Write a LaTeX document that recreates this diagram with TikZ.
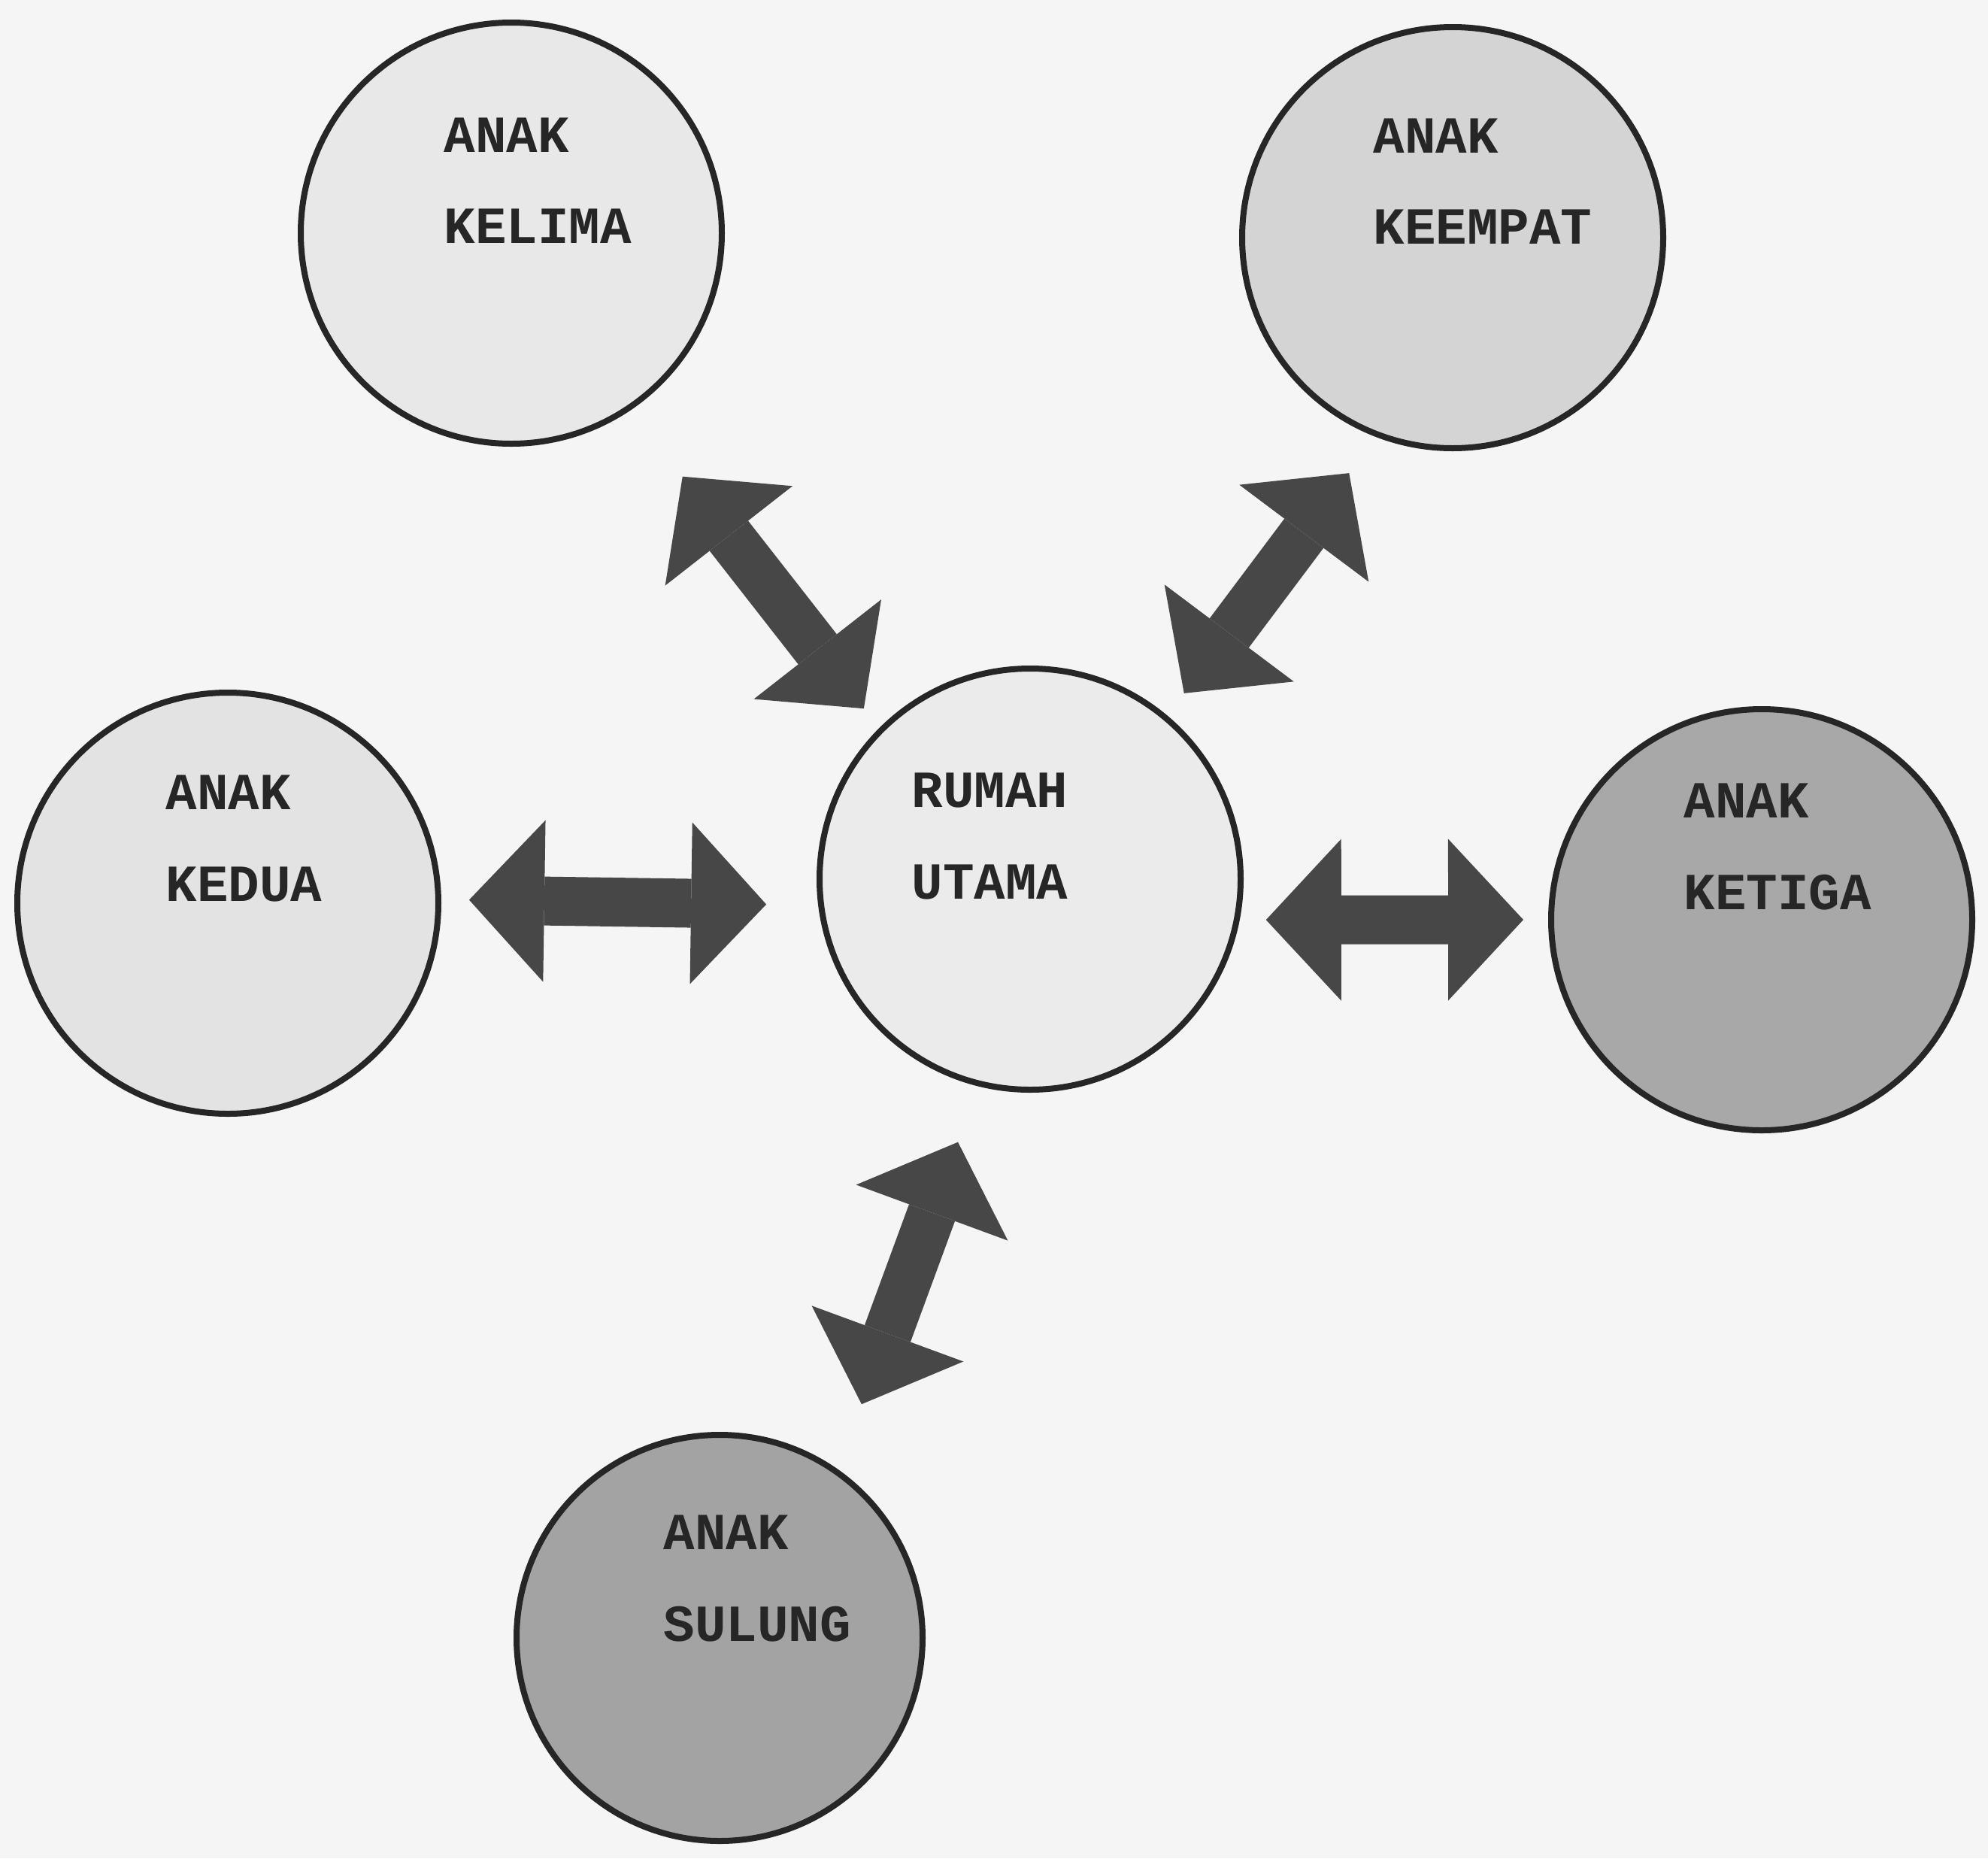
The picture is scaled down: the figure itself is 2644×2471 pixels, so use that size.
\documentclass[tikz,border=0pt]{standalone}
\usepackage{fontspec}
\newfontfamily\ketik{Liberation Mono}
\usetikzlibrary{arrows.meta}

\tikzset{
  rumah/.style={circle, draw=black!85, line width=0.8mm, minimum size=56mm, inner sep=0pt},
  tulisan/.style={anchor=west, align=left, inner sep=0pt, text=black!85,
    font=\ketik\bfseries\fontsize{19.7}{34.6}\selectfont},
  panah/.style={line width=6.5mm, draw=black!72,
    >={Triangle[width=21.5mm,length=10mm,line width=0pt]}, <->}
}

\begin{document}
\begin{tikzpicture}[x=0.1mm, y=-0.1mm]
    \useasboundingbox (0,0) rectangle (2644,2471);
    % Latar kertas
    \fill[black!4] (0,0) rectangle (2644,2471);

    % Lingkaran
    \node[rumah, fill=black!9]  (kelima)  at (680,310)   {};
    \node[rumah, fill=black!17] (keempat) at (1932,316)  {};
    \node[rumah, fill=black!11] (kedua)   at (303,1201)  {};
    \node[rumah, fill=black!8]  (utama)   at (1370,1169) {};
    \node[rumah, fill=black!34] (ketiga)  at (2343,1223) {};
    \node[rumah, fill=black!36, minimum size=54mm] (sulung) at (957,2178) {};

    % Tulisan
    \node[tulisan] (tkelima)  at (590,240)   {ANAK\\KELIMA};
    \node[tulisan] (tkeempat) at (1826,241)  {ANAK\\KEEMPAT};
    \node[tulisan] (tkedua)   at (220,1115)  {ANAK\\KEDUA};
    \node[tulisan] (tutama)   at (1212,1112) {RUMAH\\UTAMA};
    \node[tulisan] (tketiga)  at (2239,1126) {ANAK\\KETIGA};
    \node[tulisan] (tsulung)  at (882,2099)  {ANAK\\SULUNG};

    % Panah dua arah
    \draw[panah, shorten <=11.2mm, shorten >=3.3mm] (kelima.-56) -- (utama.135);
    \draw[panah, shorten <=6.0mm, shorten >=3.7mm] (keempat.249) -- (utama.50);
    \draw[panah, shorten <=3.7mm, shorten >=6.9mm] (kedua.1) -- (utama.187);
    \draw[panah, shorten <=3.5mm, shorten >=3.3mm] (utama.-11) -- (ketiga.west);
    \draw[panah, shorten <=7.9mm, shorten >=9.2mm] (utama.256) -- (sulung.55);
\end{tikzpicture}
\end{document}
